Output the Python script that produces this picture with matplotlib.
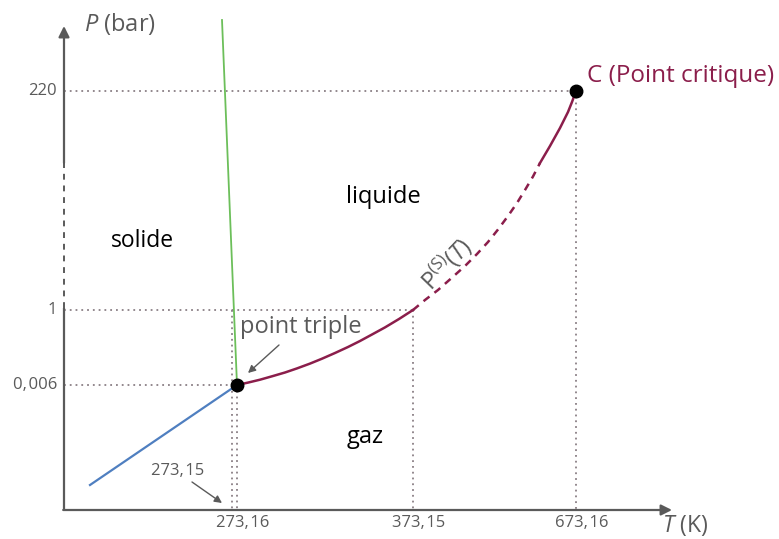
import matplotlib
matplotlib.use("Agg")
import matplotlib.pyplot as plt

plt.rcParams['font.family'] = ['Open Sans', 'DejaVu Sans']
plt.rcParams['mathtext.fontset'] = 'custom'
plt.rcParams['mathtext.rm'] = 'Open Sans'
plt.rcParams['mathtext.it'] = 'Open Sans:italic'

# ---- schematic data (diagram coordinates, y grows downwards) ----
T_tick_pos = [237, 413, 576]
T_tick_labels = ["273,\u200a16", "373,\u200a15", "673,\u200a16"]
P_tick_pos = [385, 310, 91]
P_tick_labels = ["0,\u200a006", "1", "220"]

triple = (237, 385)
boil = (413, 310)
critical = (576, 91)
T_27315 = 232

sub_x = [90, 237]
sub_y = [485, 385]
fus_x = [222, 237]
fus_y = [20, 385]
vap1_x = [237, 248, 260, 272, 285, 297, 310, 322, 335, 348, 360, 372, 385, 399, 413]
vap1_y = [385, 382.6, 379.7, 376.3, 372.5, 368.4, 363.6, 358.7, 353.0, 347.0, 341.0, 334.5, 327.4, 319.0, 310]
vap2_x = [413, 425, 438, 451, 465, 477, 488, 498, 508, 517, 525, 533, 540]
vap2_y = [310, 300, 290, 278.5, 266, 254, 242, 229.5, 216, 203, 190, 176.5, 163]
vap3_x = [540, 545, 550, 555, 560, 564, 568, 572, 576]
vap3_y = [163, 154.5, 146, 137, 128, 120, 112, 102, 91]

# ---- styles ----
AXC = '#5a5a5a'
GRIDC = '#8a7f85'
MAROON = '#8b1e4b'
BLUE = '#4f7fc0'
GREEN = '#6cbf5a'
TXT = '#5a5a5a'

fig = plt.figure(figsize=(7.79, 5.39), dpi=100)
ax = fig.add_axes([0, 0, 1, 1])
ax.set_xlim(0, 779)
ax.set_ylim(539, 0)
ax.axis('off')

x0, y0 = 64, 510
xend, ytop = 672, 26
ybreak_top, ybreak_bot = 163, 308

# dotted guide lines
dot = dict(color=GRIDC, lw=1.3, ls=(0, (1, 2.2)), zorder=1)
for py, px in zip(P_tick_pos, [triple[0], boil[0], critical[0]]):
    ax.plot([x0, px], [py, py], **dot)
ax.plot([triple[0], triple[0]], [triple[1], y0], **dot)
ax.plot([boil[0], boil[0]], [boil[1], y0], **dot)
ax.plot([critical[0], critical[0]], [critical[1], y0], **dot)
ax.plot([T_27315, T_27315], [boil[1], y0], **dot)

# axes
ax.plot([x0, x0], [y0, ybreak_bot], color=AXC, lw=1.6, solid_capstyle='butt', zorder=3)
ax.plot([x0, x0], [ybreak_bot, ybreak_top], color=AXC, lw=1.4, ls=(0, (3, 3)), zorder=3)
ax.annotate('', xy=(x0, ytop), xytext=(x0, ybreak_top),
            arrowprops=dict(arrowstyle='-|>', color=AXC, lw=1.6, mutation_scale=16,
                            shrinkA=0, shrinkB=0), zorder=3)
ax.annotate('', xy=(xend, y0), xytext=(x0 - 0.8, y0),
            arrowprops=dict(arrowstyle='-|>', color=AXC, lw=1.6, mutation_scale=16,
                            shrinkA=0, shrinkB=0), zorder=3)

# curves
ax.plot(sub_x, sub_y, color=BLUE, lw=1.6, zorder=4)
ax.plot(fus_x, fus_y, color=GREEN, lw=1.3, zorder=4)
ax.plot(vap1_x, vap1_y, color=MAROON, lw=1.8, zorder=4, solid_joinstyle='round')
ax.plot(vap2_x, vap2_y, color=MAROON, lw=1.8, ls=(0, (3, 2.5)), zorder=4)
ax.plot(vap3_x, vap3_y, color=MAROON, lw=1.8, zorder=4, solid_joinstyle='round')

ax.plot([triple[0], critical[0]], [triple[1], critical[1]], 'o', color='black',
        ms=9, ls='none', zorder=6)

# tick labels
for p, lab in zip(P_tick_pos, P_tick_labels):
    ax.text(57, p, lab, ha='right', va='center', fontsize=12, color=TXT)
for t, lab in zip(T_tick_pos, T_tick_labels):
    ax.text(t + 6, 523, lab, ha='center', va='center', fontsize=12, color=TXT)

# axis titles
ax.text(84, 24, r'$P$ (bar)', ha='left', va='center', fontsize=17, color=TXT)
ax.text(662, 526, r'$T$ (K)', ha='left', va='center', fontsize=16.5, color=TXT)

# region labels
ax.text(142, 241, 'solide', ha='center', va='center', fontsize=16.5, color='black')
ax.text(383, 197, 'liquide', ha='center', va='center', fontsize=17, color='black')
ax.text(365, 437, 'gaz', ha='center', va='center', fontsize=17, color='black')

ax.text(587, 76, 'C (Point critique)', ha='left', va='center', fontsize=17.5, color=MAROON)
ax.text(301, 327, 'point triple', ha='center', va='center', fontsize=17, color=TXT)
ax.annotate('', xy=(248, 373), xytext=(279, 345),
            arrowprops=dict(arrowstyle='-|>', color=TXT, lw=1.0, mutation_scale=11,
                            shrinkA=0, shrinkB=0))
ax.text(178, 471, '273,\u200a15', ha='center', va='center', fontsize=12, color=TXT)
ax.annotate('', xy=(222, 503), xytext=(192, 482),
            arrowprops=dict(arrowstyle='-|>', color=TXT, lw=1.0, mutation_scale=11,
                            shrinkA=0, shrinkB=0))
ax.text(447, 264, r'$\mathregular{P^{(S)}(}T\mathregular{)}$', ha='center', va='center',
        fontsize=17, color=TXT, rotation=46)

fig.savefig('out.png', dpi=100)
